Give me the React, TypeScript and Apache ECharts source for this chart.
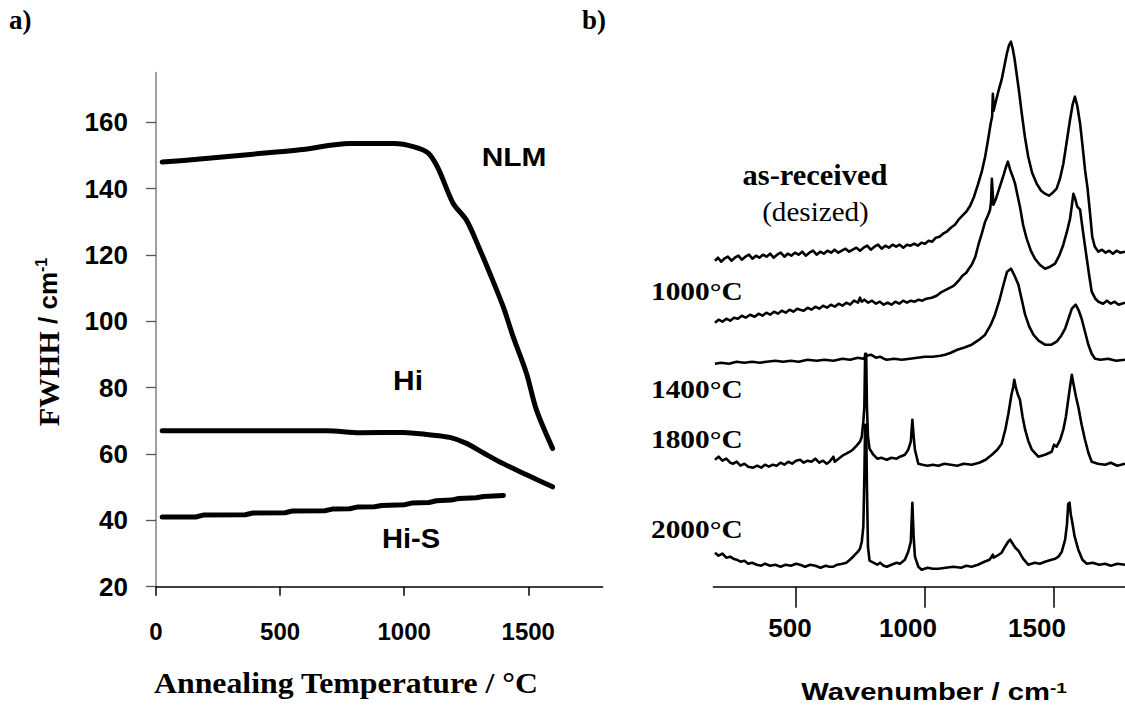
import React, { useEffect, useRef } from 'react';
import * as echarts from 'echarts';

// ---------- Panel a) FWHH vs annealing temperature ----------
const tempTicks = [0, 500, 1000, 1500];
const fwhhTicks = [20, 40, 60, 80, 100, 120, 140, 160];

const nlm: [number, number][] = [
  [25, 148], [177, 148.9], [380, 150.3], [580, 151.7], [781, 153.6], [960, 153.6],
  [1040, 152.6], [1097, 150.7], [1137, 146.1], [1197, 135.6], [1251, 130.5],
  [1300, 122.5], [1345, 114.5], [1399, 104.4], [1439, 95.4], [1493, 84.3],
  [1533, 73.3], [1598, 61.7],
];
const hi: [number, number][] = [
  [25, 67], [300, 67], [688, 67], [822, 66.4], [996, 66.5], [1100, 65.8],
  [1184, 65], [1251, 63.2], [1320, 60.3], [1396, 57.2], [1500, 53.5], [1598, 50.1],
];
const hiS: [number, number][] = [
  [25, 41], [160, 41], [190, 41.6], [360, 41.7], [390, 42.2], [520, 42.3], [550, 42.8],
  [680, 42.9], [710, 43.4], [780, 43.5], [810, 44], [880, 44.1], [910, 44.5], [1000, 44.7],
  [1030, 45.2], [1100, 45.4], [1130, 45.9], [1190, 46.1], [1220, 46.6], [1290, 46.8],
  [1320, 47.2], [1400, 47.5],
];

// ---------- Panel b) Raman spectra (intensity, arbitrary offset units) ----------
const wnTicks = [500, 1000, 1500];

const asReceived: [number, number][] = [
  [186, 326], [198, 329], [210, 325], [222, 328], [236, 330], [250, 326], [263, 329], [277, 331],
  [290, 327], [304, 330], [318, 332], [331, 328], [345, 331], [358, 329], [372, 332], [386, 330],
  [400, 333], [413, 329], [427, 332], [441, 334], [455, 330], [468, 333], [482, 331], [496, 334],
  [510, 332], [524, 335], [538, 331], [552, 334], [566, 336], [580, 332], [594, 335], [608, 333],
  [622, 336], [636, 334], [650, 337], [664, 334], [678, 336], [692, 338], [706, 335], [720, 337],
  [734, 339], [748, 336], [762, 339], [776, 341], [790, 337], [804, 340], [818, 342], [832, 338],
  [846, 341], [860, 339], [874, 342], [888, 340], [902, 342], [916, 339], [930, 342], [944, 341],
  [958, 343], [972, 341], [986, 344], [1000, 343], [1014, 346], [1028, 345], [1042, 349],
  [1056, 350], [1070, 353], [1084, 355], [1100, 359], [1116, 362], [1130, 367], [1145, 371],
  [1160, 375], [1175, 381], [1190, 390], [1205, 402], [1220, 415], [1233, 430], [1245, 448],
  [1255, 464], [1260, 470], [1263, 493], [1266, 476], [1275, 486], [1286, 497], [1297, 507],
  [1307, 520], [1317, 533], [1325, 541], [1333, 545], [1340, 538], [1347, 528], [1355, 513],
  [1365, 494], [1375, 473], [1387, 450], [1400, 430], [1415, 414], [1433, 403], [1450, 396],
  [1465, 393], [1480, 391], [1495, 394], [1510, 398], [1523, 408], [1536, 423], [1548, 443],
  [1562, 467], [1572, 482], [1581, 490], [1590, 481], [1601, 463], [1610, 442], [1620, 417],
  [1630, 398], [1640, 372], [1648, 350], [1658, 340], [1672, 335], [1686, 337], [1700, 334],
  [1714, 336], [1728, 333], [1742, 336], [1756, 334], [1775, 335],
];

const t1000: [number, number][] = [
  [186, 264], [200, 267], [215, 265], [230, 268], [245, 266], [260, 269], [275, 268], [290, 271],
  [305, 269], [322, 272], [340, 270], [355, 273], [370, 271], [385, 274], [400, 272], [415, 275],
  [430, 273], [445, 276], [460, 274], [475, 277], [490, 275], [505, 278], [516, 277], [530, 276],
  [545, 279], [560, 277], [575, 280], [590, 278], [605, 281], [620, 279], [635, 282], [650, 280],
  [665, 283], [680, 281], [695, 284], [710, 282], [725, 286], [740, 284], [748, 289], [755, 285],
  [765, 287], [780, 284], [795, 286], [810, 283], [825, 285], [840, 282], [855, 284], [870, 282],
  [885, 285], [900, 283], [915, 286], [930, 284], [945, 286], [960, 285], [975, 287], [990, 286],
  [1005, 288], [1026, 289], [1045, 291], [1060, 294], [1075, 296], [1090, 298], [1105, 300],
  [1116, 302], [1130, 306], [1145, 311], [1160, 314], [1170, 318], [1181, 322], [1195, 330],
  [1207, 342], [1220, 353], [1233, 365], [1245, 372], [1252, 377], [1256, 385], [1259, 408],
  [1262, 395], [1265, 382], [1275, 388], [1285, 396], [1295, 404], [1305, 412], [1313, 419],
  [1321, 425], [1330, 417], [1340, 410], [1349, 403], [1358, 392], [1368, 380], [1380, 362],
  [1394, 348], [1410, 336], [1426, 328], [1445, 322], [1465, 318], [1485, 320], [1504, 323],
  [1520, 331], [1536, 342], [1550, 355], [1562, 368], [1570, 383], [1575, 393], [1582, 388],
  [1590, 380], [1601, 377], [1607, 365], [1617, 346], [1627, 328], [1637, 310], [1646, 295],
  [1660, 288], [1672, 285], [1690, 283], [1705, 286], [1720, 283], [1735, 285], [1750, 282],
  [1775, 284],
];

const t1400: [number, number][] = [
  [186, 223], [210, 224], [240, 223], [270, 225], [300, 224], [330, 225], [360, 224], [386, 225],
  [420, 226], [450, 225], [480, 226], [510, 225], [545, 227], [580, 226], [610, 227], [645, 226],
  [680, 228], [710, 227], [740, 229], [760, 228], [774, 231], [790, 232], [810, 229], [826, 230],
  [840, 228], [852, 227], [880, 228], [910, 227], [942, 228], [970, 229], [1000, 230],
  [1030, 230], [1060, 231], [1078, 232], [1100, 234], [1125, 237], [1150, 239], [1181, 242],
  [1210, 247], [1233, 252], [1255, 262], [1271, 272], [1288, 286], [1304, 302], [1318, 315],
  [1333, 318], [1347, 311], [1362, 302], [1375, 287], [1388, 272], [1404, 260], [1420, 252],
  [1440, 246], [1465, 242], [1490, 242], [1510, 245], [1528, 251], [1543, 258], [1556, 268],
  [1569, 278], [1584, 282], [1596, 276], [1607, 268], [1620, 255], [1633, 242], [1646, 233],
  [1659, 228], [1680, 227], [1710, 228], [1740, 226], [1775, 227],
];

const t1800: [number, number][] = [
  [186, 127], [200, 130], [215, 126], [230, 128], [245, 124], [257, 123], [270, 125], [285, 121],
  [300, 123], [315, 120], [334, 119], [350, 121], [365, 119], [380, 122], [395, 120], [410, 122],
  [425, 121], [440, 124], [455, 122], [470, 125], [485, 123], [500, 126], [516, 127], [530, 124],
  [545, 126], [560, 125], [575, 128], [590, 124], [605, 126], [619, 123], [630, 125], [645, 130],
  [650, 125], [665, 128], [680, 131], [695, 133], [709, 135], [720, 137], [735, 141], [748, 145],
  [755, 150], [761, 165], [765, 180], [768, 233], [772, 233], [775, 180], [779, 150], [785, 138],
  [800, 132], [815, 128], [830, 129], [852, 127], [870, 129], [890, 128], [903, 130], [922, 132],
  [935, 137], [945, 145], [951, 167], [956, 150], [961, 137], [974, 123], [990, 122], [1010, 121],
  [1030, 122], [1052, 121], [1075, 123], [1100, 122], [1125, 121], [1150, 123], [1181, 122],
  [1210, 124], [1235, 127], [1259, 132], [1280, 137], [1297, 143], [1312, 158], [1323, 173],
  [1335, 192], [1342, 200], [1346, 207], [1352, 199], [1360, 192], [1368, 187], [1378, 170],
  [1388, 157], [1400, 146], [1414, 137], [1439, 130], [1465, 132], [1491, 135], [1500, 142],
  [1510, 140], [1524, 147], [1536, 157], [1546, 170], [1555, 187], [1562, 200], [1569, 212],
  [1576, 202], [1585, 190], [1594, 180], [1607, 162], [1620, 147], [1633, 134], [1646, 125],
  [1670, 123], [1698, 122], [1720, 124], [1745, 121], [1775, 123],
];

const t2000: [number, number][] = [
  [186, 34], [200, 31], [215, 33], [230, 29], [245, 30], [257, 28], [270, 27], [285, 25],
  [300, 26], [315, 23], [330, 24], [348, 22], [365, 21], [380, 23], [400, 21], [420, 22],
  [440, 20], [460, 22], [480, 21], [500, 23], [516, 22], [535, 20], [555, 22], [575, 21],
  [595, 19], [615, 21], [630, 20], [645, 20], [660, 22], [680, 23], [695, 24], [709, 27],
  [725, 31], [740, 35], [748, 38], [755, 45], [761, 60], [765, 110], [768, 162], [772, 162],
  [775, 100], [779, 40], [785, 26], [800, 24], [815, 22], [826, 24], [840, 21], [852, 20],
  [870, 22], [890, 24], [903, 23], [922, 27], [935, 35], [945, 45], [951, 84], [956, 50],
  [961, 30], [974, 20], [987, 17], [1010, 19], [1030, 18], [1052, 18], [1080, 19], [1110, 20],
  [1140, 19], [1160, 21], [1181, 20], [1205, 22], [1230, 25], [1250, 27], [1263, 32], [1266, 29],
  [1280, 31], [1297, 34], [1310, 40], [1322, 45], [1330, 47], [1340, 43], [1350, 39], [1362, 36],
  [1380, 28], [1400, 22], [1425, 24], [1445, 23], [1465, 25], [1490, 27], [1505, 28], [1517, 30],
  [1530, 35], [1543, 47], [1550, 62], [1555, 83], [1560, 84], [1565, 72], [1569, 67], [1580, 50],
  [1594, 37], [1610, 27], [1627, 23], [1650, 24], [1675, 22], [1698, 23], [1720, 21], [1745, 23],
  [1775, 22],
];

const SANS = '"Liberation Sans", Arial, sans-serif';
const SERIF = '"Liberation Serif", "Times New Roman", serif';

function label(text: string, x: number, y: number, font: string, align = 'center', scaleX = 1) {
  return {
    type: 'text',
    x,
    y,
    scaleX,
    silent: true,
    style: {
      text,
      font,
      fill: '#000',
      textAlign: align,
      textVerticalAlign: 'middle',
      align,
      verticalAlign: 'middle',
    },
  };
}

export default function App() {
  const ref = useRef<HTMLDivElement>(null);

  useEffect(() => {
    if (!ref.current) return;
    const chart = echarts.init(ref.current, null, { renderer: 'svg' });

    const tickLabelBase = {
      fontFamily: SANS,
      fontWeight: 'bold',
      color: '#000',
    };

    const fwhhLine = (data: [number, number][], smooth: number | boolean) => ({
      type: 'line',
      xAxisIndex: 0,
      yAxisIndex: 0,
      data,
      smooth,
      symbol: 'none',
      showSymbol: false,
      lineStyle: { color: '#000', width: 5, cap: 'round', join: 'round' },
      z: 5,
    });
    const spectrum = (data: [number, number][]) => ({
      type: 'line',
      xAxisIndex: 1,
      yAxisIndex: 1,
      data,
      symbol: 'none',
      showSymbol: false,
      lineStyle: { color: '#000', width: 2.6, join: 'round' },
      z: 5,
    });

    const rightTickFont = { fontFamily: SANS, fontWeight: 'bold', fontSize: 26, color: '#000' };

    const option: any = {
      animation: false,
      backgroundColor: '#ffffff',
      grid: [
        { left: 156, top: 72.5, width: 446.7, height: 514.2 },
        { left: 713.4, top: 36.7, width: 411.6, height: 550 },
      ],
      xAxis: [
        {
          gridIndex: 0,
          type: 'value',
          min: 0,
          max: 1800,
          axisLine: { show: true, onZero: false, lineStyle: { color: '#000', width: 1.5 } },
          axisTick: { show: true, length: 9, customValues: tempTicks, lineStyle: { color: '#000', width: 1.5 } },
          axisLabel: {
            ...tickLabelBase,
            fontSize: 24,
            margin: 33,
            customValues: tempTicks,
            formatter: (v: number) => String(v),
          },
          splitLine: { show: false },
        },
        {
          gridIndex: 1,
          type: 'value',
          min: 180,
          max: 1775,
          axisLine: { show: true, onZero: false, lineStyle: { color: '#000', width: 1.5 } },
          axisTick: { show: true, length: 21, customValues: wnTicks, lineStyle: { color: '#000', width: 1.5 } },
          axisLabel: {
            ...rightTickFont,
            margin: 28,
            customValues: wnTicks,
            formatter: (v: number) => (v === 500 ? `{s|${v}}` : `{l|${v}}`),
            rich: {
              s: { ...rightTickFont, padding: [0, 12, 0, 0] },
              l: { ...rightTickFont, padding: [0, 34, 0, 0] },
            },
          },
          splitLine: { show: false },
        },
      ],
      yAxis: [
        {
          gridIndex: 0,
          type: 'value',
          min: 20,
          max: 175,
          axisLine: { show: true, onZero: false, lineStyle: { color: '#808080', width: 1.5 } },
          axisTick: { show: true, length: 10, customValues: fwhhTicks, lineStyle: { color: '#555', width: 1.3 } },
          axisLabel: {
            ...tickLabelBase,
            fontSize: 26,
            margin: 28,
            customValues: fwhhTicks,
            formatter: (v: number) => String(v),
          },
          splitLine: { show: false },
        },
        { gridIndex: 1, type: 'value', min: 0, max: 550, show: false },
      ],
      series: [
        fwhhLine(nlm, 0.3),
        fwhhLine(hi, 0.3),
        fwhhLine(hiS, false),
        spectrum(asReceived),
        spectrum(t1000),
        spectrum(t1400),
        spectrum(t1800),
        spectrum(t2000),
      ],
      graphic: [
        label('a)', 9, 20, `bold 27px ${SERIF}`, 'left'),
        label('b)', 582, 20, `bold 27px ${SERIF}`, 'left'),
        label('NLM', 514, 157, `bold 26px ${SANS}`, 'center', 1.15),
        label('Hi', 408, 380, `bold 28px ${SANS}`, 'center', 1.07),
        label('Hi-S', 411, 538, `bold 28px ${SANS}`, 'center', 1.04),
        label('Annealing Temperature / °C', 346, 683, `bold 30px ${SERIF}`, 'center', 1.06),
        label('as-received', 815, 175, `bold 29px ${SERIF}`, 'center', 1.05),
        label('(desized)', 815.5, 212, `28px ${SERIF}`, 'center', 1.04),
        label('1000°C', 651, 291.5, `bold 26px ${SERIF}`, 'left', 1.13),
        label('1400°C', 651, 389.5, `bold 26px ${SERIF}`, 'left', 1.13),
        label('1800°C', 651, 439.5, `bold 26px ${SERIF}`, 'left', 1.13),
        label('2000°C', 651, 529.5, `bold 26px ${SERIF}`, 'left', 1.13),
        {
          type: 'text',
          x: 48,
          y: 342,
          rotation: Math.PI / 2,
          silent: true,
          style: {
            text: '{a|FWHH}{b| / cm}{c|-1}',
            fill: '#000',
            textAlign: 'center',
            textVerticalAlign: 'middle',
            align: 'center',
            verticalAlign: 'middle',
            rich: {
              a: { font: `bold 30px ${SERIF}`, fill: '#000' },
              b: { font: `bold 26px ${SANS}`, fill: '#000' },
              c: { font: `bold 16px ${SANS}`, fill: '#000', verticalAlign: 'top' },
            },
          },
        },
        {
          type: 'text',
          x: 934,
          y: 692,
          scaleX: 1.27,
          silent: true,
          style: {
            text: '{b|Wavenumber / cm}{c|-1}',
            fill: '#000',
            textAlign: 'center',
            textVerticalAlign: 'middle',
            align: 'center',
            verticalAlign: 'middle',
            rich: {
              b: { font: `bold 23px ${SANS}`, fill: '#000' },
              c: { font: `bold 15px ${SANS}`, fill: '#000', verticalAlign: 'top' },
            },
          },
        },
      ],
    };

    chart.setOption(option);
    return () => chart.dispose();
  }, []);

  return (
    <div
      ref={ref}
      style={{ position: 'absolute', left: 0, top: 0, width: 1125, height: 711, background: '#fff' }}
    />
  );
}
